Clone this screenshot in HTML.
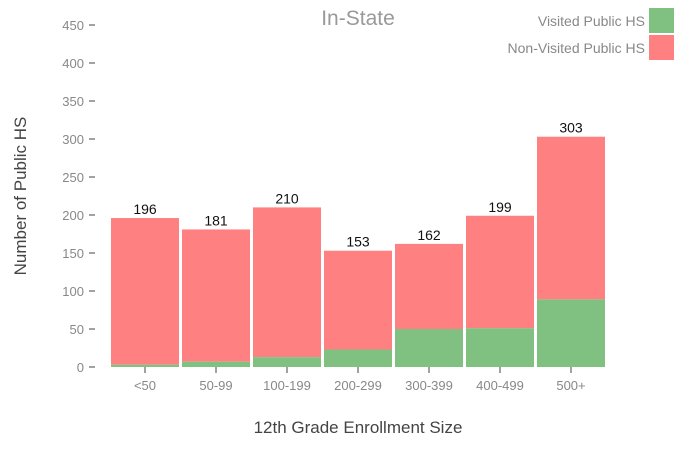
<!DOCTYPE html>
<html><head><meta charset="utf-8"><style>
body{margin:0;background:#fff;}
text{font-family:"Liberation Sans",sans-serif;}
</style></head><body>
<svg id="chart" width="700" height="450">
<text x="358" y="25" text-anchor="middle" font-size="21" fill="#999">In-State</text>
<g id="yaxis"></g>
<g id="bars"></g>
<g id="xaxis"></g>
<text x="26" y="196" transform="rotate(-90 26 196)" text-anchor="middle" font-size="17" fill="#444">Number of Public HS</text>
<text x="358" y="433" text-anchor="middle" font-size="17" fill="#444">12th Grade Enrollment Size</text>
<g>
<text x="645" y="26" text-anchor="end" font-size="14" fill="#888">Visited Public HS</text>
<rect x="649" y="8" width="25" height="25" fill="#80c080"/>
<text x="645" y="53" text-anchor="end" font-size="14" fill="#888">Non-Visited Public HS</text>
<rect x="649" y="35" width="25" height="25" fill="#ff8080"/>
</g>
</svg>
<script>
const categories=["<50","50-99","100-199","200-299","300-399","400-499","500+"];
const visited=[3,7,13,23,50,51,89];
const totals=[196,181,210,153,162,199,303];
const yTicks=[0,50,100,150,200,250,300,350,400,450];
const NS="http://www.w3.org/2000/svg";
function y(v){return 367-v*0.76;}
function x(i){return 111+i*71;}
const bw=68;
function mk(tag,attrs,parent){const e=document.createElementNS(NS,tag);for(const k in attrs)e.setAttribute(k,attrs[k]);parent.appendChild(e);return e;}
const ya=document.getElementById('yaxis'),ba=document.getElementById('bars'),xa=document.getElementById('xaxis');
yTicks.forEach(t=>{
 const l=mk('line',{x1:89,x2:95,y1:y(t),y2:y(t),stroke:'#444'},ya);
 
 
 const tx=mk('text',{x:84,y:y(t)+5,'text-anchor':'end','font-size':13,fill:'#888'},ya);
 tx.textContent=t;
 
 
});
categories.forEach((c,i)=>{
 const r1=mk('rect',{x:x(i),y:y(totals[i]),width:bw,height:y(visited[i])-y(totals[i]),fill:'#ff8080'},ba);
 
 
 const r2=mk('rect',{x:x(i),y:y(visited[i]),width:bw,height:y(0)-y(visited[i]),fill:'#80c080'},ba);
 
 
 const lb=mk('text',{x:x(i)+bw/2,y:y(totals[i])-4,'text-anchor':'middle','font-size':14,fill:'#111'},ba);
 lb.textContent=totals[i];
 
 
 const tk=mk('line',{x1:x(i)+bw/2,x2:x(i)+bw/2,y1:367,y2:373,stroke:'#444'},xa);
 
 
 const tl=mk('text',{x:x(i)+bw/2,y:390,'text-anchor':'middle','font-size':13,fill:'#888'},xa);
 tl.textContent=c;
 
 
});
</script>
</body></html>
